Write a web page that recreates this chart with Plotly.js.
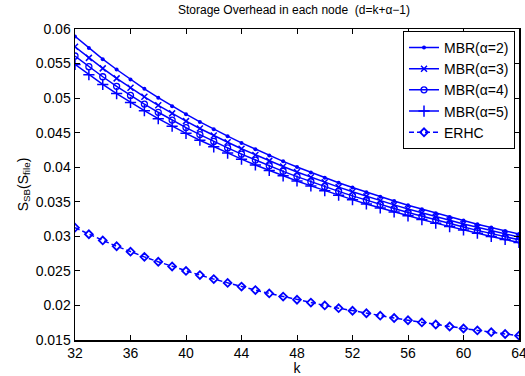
<!DOCTYPE html>
<html>
<head>
<meta charset="utf-8">
<script src="https://cdn.plot.ly/plotly-3.0.1.min.js"></script>
<style>html,body{margin:0;padding:0;background:#fff;}#chart{width:525px;height:376px;}</style>
</head>
<body>
<div id="chart"></div>
<script>
var k = [32,33,34,35,36,37,38,39,40,41,42,43,44,45,46,47,48,49,50,51,52,53,54,55,56,57,58,59,60,61,62,63,64];
var mbr2 = [0.05893,0.05724,0.05564,0.05414,0.05271,0.05135,0.05006,0.04884,0.04767,0.04656,0.04550,0.04449,0.04352,0.04259,0.04170,0.04085,0.04003,0.03925,0.03849,0.03776,0.03706,0.03639,0.03574,0.03511,0.03450,0.03392,0.03335,0.03281,0.03228,0.03176,0.03127,0.03078,0.03032];
var mbr3 = [0.05743,0.05582,0.05430,0.05286,0.05149,0.05019,0.04896,0.04779,0.04667,0.04560,0.04458,0.04361,0.04267,0.04178,0.04092,0.04010,0.03931,0.03855,0.03782,0.03712,0.03644,0.03578,0.03515,0.03455,0.03396,0.03339,0.03284,0.03231,0.03179,0.03130,0.03081,0.03035,0.02989];
var mbr4 = [0.05609,0.05455,0.05309,0.05170,0.05039,0.04914,0.04795,0.04682,0.04574,0.04472,0.04373,0.04279,0.04189,0.04103,0.04020,0.03940,0.03864,0.03790,0.03719,0.03651,0.03585,0.03522,0.03461,0.03402,0.03345,0.03290,0.03236,0.03184,0.03134,0.03086,0.03039,0.02993,0.02949];
var mbr5 = [0.05488,0.05339,0.05198,0.05065,0.04938,0.04818,0.04703,0.04594,0.04490,0.04390,0.04295,0.04204,0.04117,0.04033,0.03953,0.03875,0.03801,0.03730,0.03661,0.03595,0.03531,0.03469,0.03410,0.03352,0.03297,0.03243,0.03191,0.03141,0.03092,0.03045,0.02999,0.02954,0.02911];
var erhc = [0.03125,0.03030,0.02941,0.02857,0.02778,0.02703,0.02632,0.02564,0.02500,0.02439,0.02381,0.02326,0.02273,0.02222,0.02174,0.02128,0.02083,0.02041,0.02000,0.01961,0.01923,0.01887,0.01852,0.01818,0.01786,0.01754,0.01724,0.01695,0.01667,0.01639,0.01613,0.01587,0.01563];
var names = ['MBR(α=2)','MBR(α=3)','MBR(α=4)','MBR(α=5)','ERHC'];
var xTicks = [32,36,40,44,48,52,56,60,64];
var yTicks = [0.015,0.02,0.025,0.03,0.035,0.04,0.045,0.05,0.055,0.06];
var yTickText = ['0.015','0.02','0.025','0.03','0.035','0.04','0.045','0.05','0.055','0.06'];

var blue = '#0000ff';
function tr(y, name, sym, size, dash, mlw){
  return {x:k, y:y, name:name, type:'scatter', mode:'lines+markers',
    line:{color:blue, width:1.5, dash:dash},
    marker:{symbol:sym, size:size, color:blue, line:{color:blue, width:mlw}}};
}
var data = [
  tr(mbr2, names[0], 'circle', 4, 'solid', 0),
  tr(mbr3, names[1], 'x-thin-open', 6, 'solid', 1.5),
  tr(mbr4, names[2], 'circle-open', 6, 'solid', 1.3),
  tr(mbr5, names[3], 'cross-thin-open', 8, 'solid', 1.5),
  tr(erhc, names[4], 'diamond-open', 6, '5px,3px', 1.8)
];
var layout = {
  width:525, height:376,
  margin:{l:75, r:6, t:29, b:36},
  paper_bgcolor:'#fff', plot_bgcolor:'#fff',
  font:{family:'Liberation Sans, Arial, sans-serif', size:14, color:'#000'},
  title:{text:'Storage Overhead in each node  (d=k+α−1)', font:{size:12, color:'#000'}, x:0.56, xanchor:'center', y:0.975, yanchor:'middle'},
  showlegend:true,
  legend:{x:0.991, xanchor:'right', y:0.994, yanchor:'top', bgcolor:'#fff', bordercolor:'#000', borderwidth:1, font:{size:14}, tracegroupgap:0, itemwidth:30},
  xaxis:{range:[32,64], tickvals:xTicks, ticktext:xTicks.map(String), ticks:'inside', ticklen:5, tickcolor:'#000',
    showline:true, linecolor:'#000', linewidth:1.5, mirror:'ticks', showgrid:false, zeroline:false,
    ticklabeloverflow:'allow', tickfont:{size:14},
    title:{text:'k', font:{size:14}, standoff:0}},
  yaxis:{range:[0.015,0.06], tickvals:yTicks, ticktext:yTickText, ticks:'inside', ticklen:5, tickcolor:'#000',
    showline:true, linecolor:'#000', linewidth:1.5, mirror:'ticks', showgrid:false, zeroline:false,
    ticklabeloverflow:'allow', tickfont:{size:14},
    title:{text:'S<sub>SB</sub>(S<sub>file</sub>)', font:{size:14}, standoff:4}}
};
Plotly.newPlot('chart', data, layout, {displayModeBar:false, staticPlot:true});
</script>
</body>
</html>
